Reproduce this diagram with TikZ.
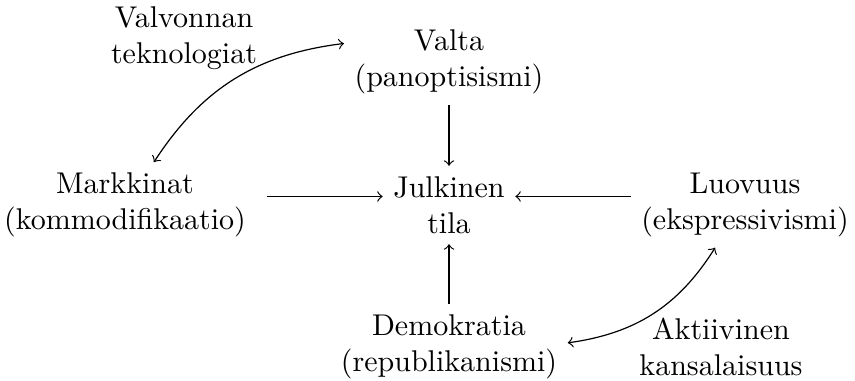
\documentclass[tikz,border=0pt]{standalone}
\begin{document}
\begin{tikzpicture}[x=0.1171mm,y=-0.1171mm,
  lbl/.style={align=center},
  arr/.style={->},
  darr/.style={<->}]
\useasboundingbox (0,0) rectangle (855,381);
\node[lbl] (J) at (449,205) {Julkinen\\tila};
\node[lbl] (V) at (449,62) {Valta\\(panoptisismi)};
\node[lbl] (M) at (125,205) {Markkinat\\(kommodifikaatio)};
\node[lbl] (L) at (745,205) {Luovuus\\(ekspressivismi)};
\node[lbl] (D) at (449,347) {Demokratia\\(republikanismi)};
\node[lbl] (VT) at (184,38) {Valvonnan\\teknologiat};
\node[lbl] (AK) at (721,347) {Aktiivinen\\kansalaisuus};
\draw[arr] (V) -- (J);
\draw[arr] (D) -- (J);
\draw[arr,shorten <=3.4pt] ([yshift=0.1cm]M.east) -- ([yshift=0.1cm]J.west);
\draw[arr] ([yshift=0.1cm]L.west) -- ([yshift=0.1cm]J.east);
\draw[darr] (V.170) to[bend right=25] (M.56);
\draw[darr] (L.235) to[bend left=25] (D.2);
\end{tikzpicture}
\end{document}
